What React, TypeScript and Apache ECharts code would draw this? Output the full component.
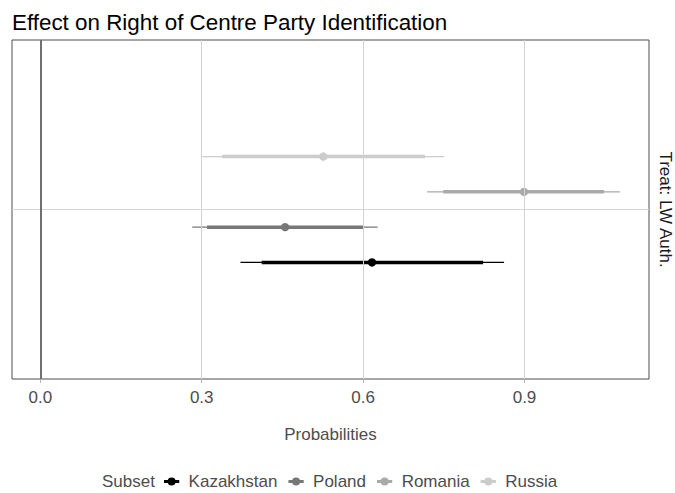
import React, { useEffect, useRef } from "react";
import * as echarts from "echarts";

const titleText = "Effect on Right of Centre Party Identification";
const stripLabel = "Treat: LW Auth.";
const axisTitle = "Probabilities";
const legendTitle = "Subset";

const subsets = ["Kazakhstan", "Poland", "Romania", "Russia"];
const estimates = [0.6165, 0.455, 0.899, 0.526];
const lo95 = [0.372, 0.2825, 0.719, 0.301];
const hi95 = [0.862, 0.627, 1.0775, 0.751];
const lo90 = [0.4115, 0.31, 0.749, 0.338];
const hi90 = [0.823, 0.6, 1.048, 0.715];
const colors = ["#000000", "#777777", "#aaaaaa", "#cccccc"];
const xTicks = [0, 0.3, 0.6, 0.9];
const dodgeWidth = 0.5;
const categoryPos = 1;

const FONT = "Liberation Sans, Arial, sans-serif";
const legendIcon =
  "path://M0,2.4H16V5.6H0Z M3.8,4A4.2,4.2 0 1,1 12.2,4A4.2,4.2 0 1,1 3.8,4Z";

export default function App() {
  const ref = useRef<HTMLDivElement>(null);
  useEffect(() => {
    if (!ref.current) return;
    document.body.style.margin = "0";
    const chart = echarts.init(ref.current, null, { renderer: "svg" });
    const n = subsets.length;
    const series: any[] = subsets.map((name, i) => {
      const y = categoryPos + (i - (n - 1) / 2) * (dodgeWidth / n);
      return {
        type: "custom",
        name,
        z: 3,
        itemStyle: { color: colors[i] },
        encode: { x: [0, 1, 2, 3, 4], y: 5 },
        data: [[estimates[i], lo95[i], hi95[i], lo90[i], hi90[i], y]],
        renderItem: (params: any, api: any) => {
          const yy = api.value(5);
          const pEst = api.coord([api.value(0), yy]);
          const p1 = api.coord([api.value(1), yy]);
          const p2 = api.coord([api.value(2), yy]);
          const p3 = api.coord([api.value(3), yy]);
          const p4 = api.coord([api.value(4), yy]);
          const c = colors[i];
          return {
            type: "group",
            children: [
              {
                type: "line",
                shape: { x1: p1[0], y1: p1[1], x2: p2[0], y2: p2[1] },
                style: { stroke: c, lineWidth: 1.2 },
              },
              {
                type: "line",
                shape: { x1: p3[0], y1: p3[1], x2: p4[0], y2: p4[1] },
                style: { stroke: c, lineWidth: 3.5 },
              },
              {
                type: "circle",
                shape: { cx: pEst[0], cy: pEst[1], r: 4.2 },
                style: { fill: c },
              },
            ],
          };
        },
      };
    });
    series.unshift({
      type: "line",
      name: "_grid",
      data: [],
      z: 1,
      silent: true,
      markLine: {
        silent: true,
        symbol: "none",
        label: { show: false },
        animation: false,
        data: [
          ...xTicks
            .filter((t) => t !== 0)
            .map((t) => ({ xAxis: t, lineStyle: { color: "#d2d2d2", width: 1, type: "solid" } })),
          { yAxis: categoryPos, lineStyle: { color: "#d6d6d6", width: 1, type: "solid" } },
          { xAxis: 0, lineStyle: { color: "#707070", width: 2, type: "solid" } },
        ],
      },
    });

    chart.setOption({
      animation: false,
      textStyle: { fontFamily: FONT },
      title: {
        text: titleText,
        left: 12,
        top: 11,
        padding: 0,
        textStyle: { fontSize: 22.4, fontWeight: "normal", color: "#000000", fontFamily: FONT },
      },
      grid: {
        left: 12,
        right: 26,
        top: 40,
        bottom: 114,
        show: true,
        borderColor: "#4d4d4d",
        borderWidth: 1,
        backgroundColor: "transparent",
      },
      xAxis: {
        type: "value",
        min: -0.0526,
        max: 1.1314,
        name: axisTitle,
        nameLocation: "middle",
        nameGap: 47,
        nameTextStyle: { fontSize: 17, color: "#4d4d4d", fontFamily: FONT },
        axisLine: { show: false },
        splitLine: { show: false },
        axisTick: {
          show: true,
          customValues: xTicks,
          length: 4,
          lineStyle: { color: "#b3b3b3", width: 1 },
        },
        axisLabel: {
          customValues: xTicks,
          formatter: (v: number) => v.toFixed(1),
          fontSize: 17,
          color: "#4d4d4d",
          margin: 10,
          fontFamily: FONT,
        },
      },
      yAxis: {
        type: "value",
        min: 0.4,
        max: 1.6,
        show: false,
        splitLine: { show: false },
      },
      legend: {
        data: subsets.map((s) => ({ name: s, icon: legendIcon })),
        left: 164,
        top: 473,
        itemWidth: 16,
        itemHeight: 8,
        itemGap: 11,
        padding: 0,
        textStyle: { fontSize: 17, color: "#4d4d4d", padding: [0, 0, 0, 4], fontFamily: FONT },
        selectedMode: false,
      },
      graphic: [
        {
          type: "text",
          left: 102,
          top: 473,
          style: {
            text: legendTitle,
            fontSize: 17,
            fill: "#4d4d4d",
            fontFamily: FONT,
          },
        },
        {
          type: "text",
          x: 665,
          y: 209.5,
          rotation: -Math.PI / 2,
          style: {
            text: stripLabel,
            fontSize: 17,
            fill: "#1a1a1a",
            align: "center",
            verticalAlign: "middle",
            fontFamily: FONT,
          },
        },
      ],
      series,
    });
    return () => chart.dispose();
  }, []);
  return (
    <div
      ref={ref}
      style={{ width: 675, height: 493, position: "absolute", left: 0, top: 0 }}
    />
  );
}
